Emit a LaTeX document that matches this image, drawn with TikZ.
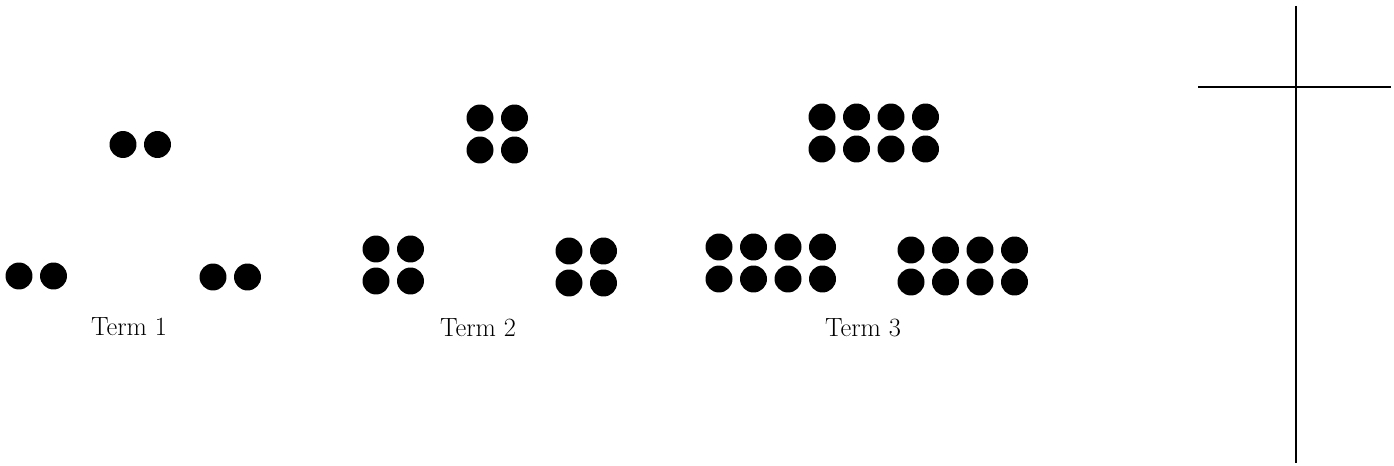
\documentclass[tikz,border=0pt]{standalone}
\usepackage{tikz}
\usetikzlibrary{positioning}

\begin{document}
\begin{tikzpicture}[
  x=0.02cm, y=-0.02cm,
  dot/.style={circle, fill=black, inner sep=0pt, minimum size=0.54cm},
  termlabel/.style={font=\fontsize{15}{17}\selectfont, inner sep=0pt},
  axis/.style={draw=black, line width=1.4pt}
]
  \useasboundingbox (0,0) rectangle (1394,466);

  % dot groups: name / first centre x / first centre y / columns / rows
  \foreach \g/\gx/\gy/\nc/\nr in {
      oneTop/123/144.5/2/1, oneLeft/19/276/2/1, oneRight/213/277/2/1,
      twoTop/480/118/2/2, twoLeft/376/249/2/2, twoRight/569/251/2/2,
      threeTop/822/117/4/2, threeLeft/719/247/4/2, threeRight/911/250/4/2}{
    \foreach \c in {1,...,\nc}{
      \foreach \r in {1,...,\nr}{
        \node [dot] (\g-\r-\c) at ({\gx+(\c-1)*34.5},{\gy+(\r-1)*32}) {};
      }
    }
  }

  \node [termlabel] (termOne) at (129,327) {Term 1};
  \node [termlabel] (termTwo) at (478,327.5) {Term 2};
  \node [termlabel] (termThree) at (863,327.5) {Term 3};

  % the cross on the right
  \coordinate (crossTop) at (1296,6);
  \coordinate (crossBottom) at (1296,463);
  \coordinate (crossLeft) at (1198,87);
  \coordinate (crossRight) at (1391,87);
  \draw [axis] (crossTop) -- (crossBottom);
  \draw [axis] (crossLeft) -- (crossRight);
\end{tikzpicture}
\end{document}
